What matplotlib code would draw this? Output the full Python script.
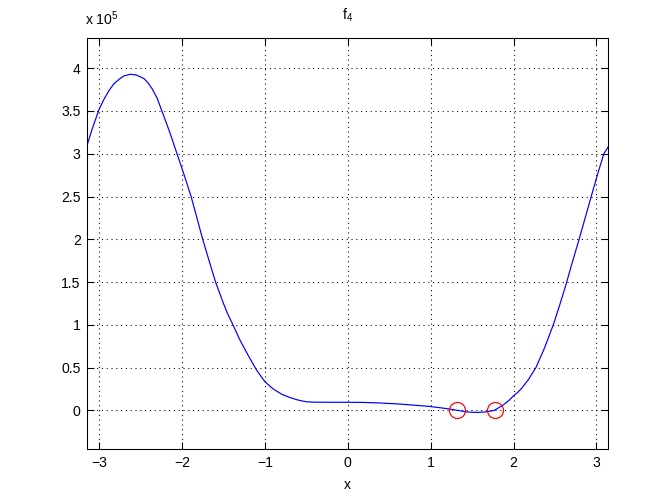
import matplotlib
matplotlib.use('Agg')
import matplotlib.pyplot as plt
from matplotlib.ticker import FuncFormatter

plt.rcParams['font.family'] = ['Liberation Sans', 'DejaVu Sans']
plt.rcParams['mathtext.default'] = 'regular'

# values (y in 1e5 units)
x = [-3.1416, -3.08, -3.0, -2.94, -2.88, -2.82, -2.76, -2.70, -2.62, -2.55, -2.46,
     -2.41, -2.36, -2.30, -2.25, -2.20, -2.14, -2.06, -1.98, -1.89, -1.82, -1.75,
     -1.67, -1.595, -1.50, -1.45, -1.39, -1.30, -1.20, -1.10, -1.0, -0.90, -0.80,
     -0.70, -0.60, -0.50, -0.40, -0.20, 0.0, 0.20, 0.40, 0.60, 0.83, 0.97, 1.10,
     1.23, 1.32, 1.43, 1.55, 1.67, 1.77, 1.875, 1.95, 2.0, 2.05, 2.10, 2.18, 2.27,
     2.37, 2.48, 2.55, 2.63, 2.70, 2.80, 2.87, 2.94, 3.02, 3.09, 3.1416]
y = [3.11, 3.30, 3.52, 3.64, 3.74, 3.82, 3.87, 3.91, 3.93, 3.92, 3.88,
     3.83, 3.76, 3.65, 3.52, 3.39, 3.23, 3.00, 2.77, 2.50, 2.25, 2.00,
     1.74, 1.50, 1.25, 1.13, 1.01, 0.82, 0.64, 0.47, 0.335, 0.25, 0.19,
     0.15, 0.12, 0.10, 0.095, 0.094, 0.094, 0.092, 0.085, 0.075, 0.058, 0.047, 0.032,
     0.015, 0.0, -0.018, -0.025, -0.018, 0.0, 0.062, 0.12, 0.17, 0.21, 0.26, 0.36, 0.50,
     0.72, 1.00, 1.21, 1.46, 1.70, 2.03, 2.27, 2.51, 2.78, 3.00, 3.08]
y = [v * 1e5 for v in y]

roots_x = [1.32, 1.771]
roots_y = [0, 0]

fig = plt.figure(figsize=(7, 5.25), dpi=96)
ax = fig.add_axes([0.13, 0.1085, 0.775, 0.8155])

ax.plot(x, y, color='blue', linewidth=0.9)
ax.plot(roots_x, roots_y, 'o', markersize=12, markerfacecolor='none',
        markeredgecolor='red', markeredgewidth=0.9)

ax.set_xlim(-3.1416, 3.1416)
ax.set_ylim(-0.456e5, 4.35e5)
ax.set_xticks([-3, -2, -1, 0, 1, 2, 3])
ax.set_yticks([0, 0.5e5, 1e5, 1.5e5, 2e5, 2.5e5, 3e5, 3.5e5, 4e5])
ax.yaxis.set_major_formatter(FuncFormatter(lambda v, p: '%g' % (v / 1e5)))
ax.tick_params(direction='in', top=True, right=True, labelsize=10.5, length=5, width=0.8, pad=5)
ax.grid(True, linestyle=(0, (1, 3.5)), color='black', linewidth=0.8)
for s in ax.spines.values():
    s.set_linewidth(0.8)

ax.set_title('f$_4$', fontsize=10.5, pad=14)
ax.set_xlabel('x', fontsize=10.5, labelpad=6)
ax.text(-0.005, 1.025, 'x 10$^5$', transform=ax.transAxes, fontsize=10.5,
        ha='left', va='bottom')

plt.savefig('out.png', dpi=96)
